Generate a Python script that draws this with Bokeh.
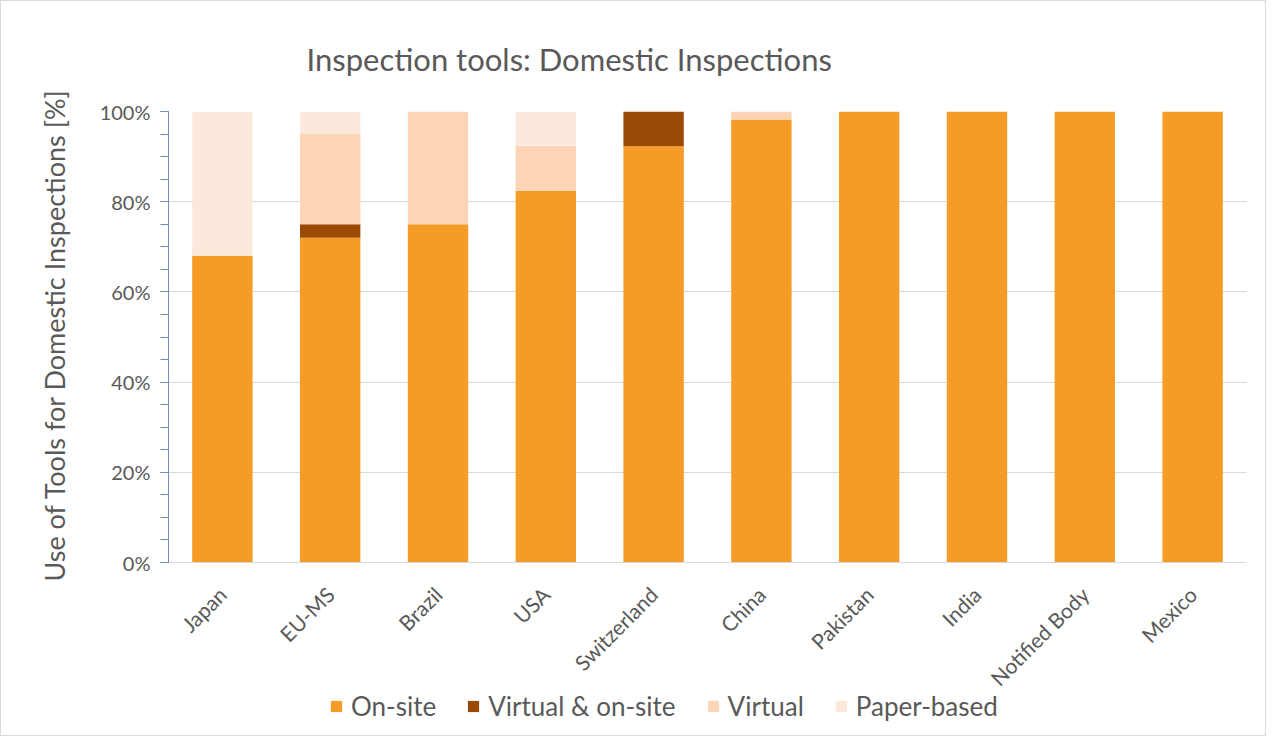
import math
from bokeh.plotting import figure
from bokeh.models import (FactorRange, Range1d, FixedTicker, PrintfTickFormatter,
                          Legend, LegendItem, Title)
from bokeh.embed import file_html
from bokeh.resources import INLINE

countries = ["Japan", "EU-MS", "Brazil", "USA", "Switzerland", "China",
             "Pakistan", "India", "Notified Body", "Mexico"]
on_site = [68, 72, 75, 82.4, 92.3, 98.2, 100, 100, 100, 100]
virtual_on_site = [0, 3, 0, 0, 7.7, 0, 0, 0, 0, 0]
virtual = [0, 20, 25, 10, 0, 1.8, 0, 0, 0, 0]
paper_based = [32, 5, 0, 7.6, 0, 0, 0, 0, 0, 0]

series = ["On-site", "Virtual & on-site", "Virtual", "Paper-based"]
colors = ["#F79B28", "#9A4A05", "#FBD5B5", "#FDE9DB"]

FONT = "Lato"

# layout: value area 451 px tall for 0..100; frame extends below for labels + legend
PLOT_H = 451
FRAME_H = 614
y_low = 100 - 100 * FRAME_H / PLOT_H

data = {"country": countries, "On-site": on_site,
        "Virtual & on-site": virtual_on_site, "Virtual": virtual,
        "Paper-based": paper_based}

p = figure(frame_width=1078, frame_height=FRAME_H,
           x_range=FactorRange(*countries, range_padding=0),
           y_range=Range1d(y_low, 100), output_backend="svg", toolbar_location=None,
           min_border_left=167, min_border_right=19, min_border_top=110,
           min_border_bottom=10)
p.styles = {"border": "1px solid #D9D9D9", "box-sizing": "border-box"}

renderers = p.vbar_stack(series, x="country", width=0.56, color=colors,
                         line_color=None, source=data)

p.title.text = "Inspection tools: Domestic Inspections"
p.title.text_font = FONT
p.title.text_font_size = "31px"
p.title.text_font_style = "normal"
p.title.text_color = "#595959"
p.title.align = "left"
p.title.offset = 138
p.title.standoff = 68

p.outline_line_color = None
p.xgrid.grid_line_color = None
p.ygrid.grid_line_color = "#D9D9D9"
p.ygrid.ticker = FixedTicker(ticks=[20, 40, 60, 80, 100])

yax = p.yaxis[0]
yax.bounds = (0, 100)
yax.ticker = FixedTicker(ticks=[0, 20, 40, 60, 80, 100],
                         minor_ticks=list(range(0, 101, 5)))
yax.formatter = PrintfTickFormatter(format="%d%%")
yax.axis_line_color = "#6F8FB8"
yax.major_tick_line_color = "#6F8FB8"
yax.minor_tick_line_color = "#6F8FB8"
yax.major_tick_out = 8
yax.major_tick_in = 0
yax.minor_tick_out = 8
yax.minor_tick_in = 0
yax.major_label_text_font = FONT
yax.major_label_text_font_size = "20px"
yax.major_label_text_color = "#595959"
yax.major_label_standoff = 10

ylabel = Title(text="Use of Tools for Domestic Inspections [%]", align="left",
               offset=144, standoff=52, text_font=FONT, text_font_size="27px",
               text_font_style="normal", text_color="#595959")
p.add_layout(ylabel, "left")

xax = p.xaxis[0]
xax.fixed_location = 0
xax.axis_line_color = "#D9D9D9"
xax.major_tick_line_color = None
xax.minor_tick_line_color = None
xax.major_label_orientation = math.pi / 4
xax.major_label_text_font = FONT
xax.major_label_text_font_size = "21px"
xax.major_label_text_color = "#595959"
xax.major_label_standoff = 22

items = [LegendItem(label=s, renderers=[r]) for s, r in zip(series, renderers)]
legend = Legend(items=items, orientation="horizontal", location=(161, 3),
                label_text_font=FONT, label_text_font_size="26px",
                label_text_color="#595959", glyph_width=14, glyph_height=14,
                label_standoff=8, spacing=30, padding=0, margin=0,
                border_line_color=None, background_fill_alpha=0)
p.add_layout(legend, "center")

open("out.html", "w").write(file_html(p, INLINE))
